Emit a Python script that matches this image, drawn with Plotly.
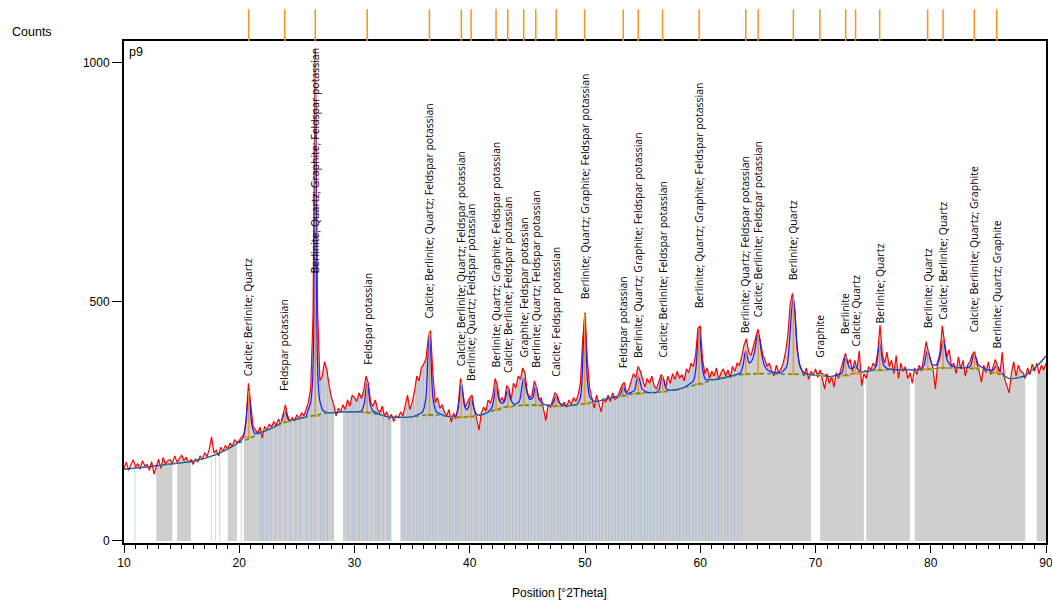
import plotly.graph_objects as go

# ---------------- data ----------------
theta_start = 10.0
theta_step = 0.2
obs_counts = [
    152, 165, 148, 158, 170, 155, 162, 150, 168, 157,   # 10.0-11.8
    160, 148, 166, 140, 158, 171, 152, 175, 161, 168,   # 12.0-13.8
    170, 162, 178, 165, 172, 180, 168, 175, 164, 171,   # 14.0-15.8
    160, 172, 165, 178, 170, 185, 176, 192, 218, 184,   # 16.0-17.8
    190, 178, 196, 188, 200, 192, 205, 198, 212, 206,   # 18.0-19.8
    210, 218, 222, 255, 330, 285, 240, 232, 226, 238,   # 20.0-21.8
    215, 240, 232, 245, 238, 250, 242, 255, 246, 262,   # 22.0-23.8
    285, 262, 250, 258, 252, 264, 256, 268, 262, 275,   # 24.0-25.8
    290, 320, 470, 1030, 480, 335, 345, 375, 358, 325,  # 26.0-27.8
    300, 285, 262, 278, 270, 285, 275, 295, 282, 305,   # 28.0-29.8
    300, 292, 310, 298, 315, 345, 330, 290, 282, 295,   # 30.0-31.8
    275, 268, 282, 262, 270, 255, 265, 250, 262, 258,   # 32.0-33.8
    270, 262, 285, 305, 275, 290, 312, 345, 335, 362,   # 34.0-35.8
    370, 380, 425, 440, 350, 290, 300, 278, 285, 270,   # 36.0-37.8
    262, 275, 248, 268, 255, 285, 340, 305, 280, 290,   # 38.0-39.8
    300, 305, 275, 255, 232, 268, 280, 272, 295, 288,   # 40.0-41.8
    305, 340, 325, 292, 300, 290, 325, 318, 296, 330,   # 42.0-43.8
    320, 345, 338, 362, 350, 310, 300, 305, 335, 322,   # 44.0-45.8
    295, 300, 272, 252, 285, 280, 295, 310, 305, 288,   # 46.0-47.8
    282, 290, 280, 295, 285, 300, 292, 305, 330, 420,   # 48.0-49.8
    478, 380, 320, 300, 278, 305, 285, 270, 298, 290,   # 50.0-51.8
    305, 292, 310, 296, 300, 315, 325, 332, 310, 318,   # 52.0-53.8
    335, 350, 342, 365, 355, 338, 322, 340, 330, 345,   # 54.0-55.8
    325, 318, 332, 348, 340, 322, 345, 330, 350, 338,   # 56.0-57.8
    355, 340, 348, 335, 360, 352, 372, 365, 390, 445,   # 58.0-59.8
    450, 380, 350, 362, 340, 355, 345, 362, 338, 352,   # 60.0-61.8
    360, 345, 358, 342, 365, 355, 372, 368, 385, 410,   # 62.0-63.8
    423, 395, 388, 405, 425, 443, 420, 392, 380, 365,   # 64.0-65.8
    372, 355, 345, 368, 352, 360, 372, 395, 430, 495,   # 66.0-67.8
    518, 480, 400, 372, 358, 345, 362, 338, 355, 348,   # 68.0-69.8
    360, 342, 358, 335, 318, 350, 330, 345, 322, 352,   # 70.0-71.8
    340, 360, 375, 393, 372, 380, 355, 378, 360, 398,   # 72.0-73.8
    325, 350, 340, 365, 358, 372, 365, 395, 452, 390,   # 74.0-75.8
    372, 395, 365, 378, 350, 388, 340, 372, 355, 365,   # 76.0-77.8
    340, 352, 330, 362, 348, 368, 355, 385, 417, 395,   # 78.0-79.8
    375, 360, 318, 372, 395, 450, 415, 385, 400, 365,   # 80.0-81.8
    372, 350, 385, 360, 378, 345, 368, 375, 390, 396,   # 82.0-83.8
    372, 355, 332, 368, 352, 375, 348, 362, 380, 365,   # 84.0-85.8
    348, 395, 340, 325, 310, 352, 375, 345, 368, 355,   # 86.0-87.8
    352, 340, 362, 348, 370, 355, 372, 350, 368, 358,   # 88.0-89.8
    372,                                                # 90.0
]

# background (green dashed)
bg_theta = [10, 12, 14, 16, 18, 19, 20, 21, 22, 23, 24, 25, 26, 27, 28, 29, 30,
            31, 32, 33, 34, 35, 36, 37, 38, 39, 40, 41, 42, 43, 44, 45, 46, 47,
            48, 49, 50, 51, 52, 53, 54, 55, 56, 57, 58, 59, 60, 61, 62, 63, 64,
            65, 66, 67, 68, 69, 70, 71, 72, 73, 74, 75, 76, 77, 78, 79, 80, 81,
            82, 83, 84, 85, 86, 87, 88, 89, 90]
bg_counts = [150, 155, 161, 167, 181, 193, 205, 216, 228, 238, 248, 255, 260,
             265, 269, 270, 270, 269, 265, 260, 259, 260, 263, 264, 261, 259,
             260, 265, 272, 280, 283, 284, 284, 282, 282, 284, 287, 293, 298,
             302, 307, 310, 311, 313, 318, 323, 329, 336, 342, 346, 349, 350,
             350, 349, 349, 348, 347, 344, 345, 349, 355, 357, 358, 358, 359,
             359, 360, 362, 362, 362, 360, 355, 348, 340, 345, 362, 387]

# calculated profile (blue), read at key positions
fit_theta = [10.0, 12.0, 14.0, 16.0, 18.0, 19.5,
             20.32, 20.57, 20.7, 20.82, 20.94, 21.07, 21.35, 22.0, 23.0,
             23.6, 23.83, 23.95, 24.07, 24.3, 25.0, 25.8,
             25.9, 26.2, 26.35, 26.47, 26.54, 26.6, 26.66, 26.73, 26.85, 27.0, 27.3, 27.8,
             29.0, 30.0,
             30.6, 30.85, 30.98, 31.1, 31.22, 31.35, 31.6, 32.5, 33.5, 35.0,
             35.9, 36.2, 36.37, 36.5, 36.63, 36.8, 37.1, 38.0,
             38.8, 39.04, 39.16, 39.27, 39.38, 39.52, 39.72,
             39.9, 40.02, 40.12, 40.22, 40.38, 40.7, 41.5,
             41.9, 42.1, 42.2, 42.28, 42.38, 42.55, 42.8,
             43.05, 43.2, 43.3, 43.4, 43.58, 43.9,
             44.3, 44.5, 44.6, 44.68, 44.78, 44.95, 45.2,
             45.48, 45.63, 45.73, 45.83, 46.0, 46.4, 47.1,
             47.3, 47.42, 47.5, 47.6, 47.75, 48.3, 49.3,
             49.6, 49.75, 49.87, 49.97, 50.07, 50.2, 50.4, 50.8, 52.0,
             53.05, 53.2, 53.32, 53.44, 53.65,
             54.3, 54.48, 54.62, 54.75, 54.95, 55.4, 56.2,
             56.45, 56.6, 56.73, 56.85, 57.05, 57.5, 58.5,
             59.4, 59.62, 59.78, 59.9, 60.02, 60.2, 60.45, 61.3, 62.5,
             63.5, 63.75, 63.87, 63.95, 64.05, 64.25, 64.5,
             64.75, 64.9, 65.02, 65.14, 65.32, 65.6, 66.0, 67.0,
             67.5, 67.75, 67.92, 68.08, 68.22, 68.4, 68.65, 69.0, 70.0,
             70.38, 71.2,
             72.3, 72.5, 72.62, 72.74, 72.95,
             73.3, 73.48, 73.66, 73.95, 74.8,
             75.25, 75.45, 75.57, 75.69, 75.9, 76.3, 77.5, 79.0,
             79.4, 79.6, 79.73, 79.86, 80.1, 80.45,
             80.8, 80.95, 81.07, 81.19, 81.4, 81.8, 82.8,
             83.45, 83.65, 83.78, 83.91, 84.15, 84.9,
             85.45, 85.63, 85.73, 85.85, 86.1, 86.8, 87.5, 88.2, 88.8, 89.4, 90.0]
fit_counts = [150, 155, 161, 167, 181, 199,
              215, 246, 285, 314, 285, 246, 225, 228, 238,
              247, 266, 274, 266, 252, 255, 260,
              268, 290, 330, 450, 700, 1010, 700, 450, 330, 292, 272, 268,
              270, 270,
              272, 288, 315, 333, 315, 288, 272, 262, 259, 260,
              270, 300, 385, 438, 385, 300, 270, 261,
              262, 285, 315, 332, 315, 285, 275,
              280, 292, 300, 292, 275, 263, 268,
              278, 298, 315, 324, 315, 295, 288,
              295, 310, 314, 310, 294, 286,
              292, 318, 334, 340, 334, 312, 296,
              300, 318, 324, 318, 298, 286, 284,
              292, 300, 303, 300, 290, 283, 286,
              300, 340, 420, 475, 420, 340, 302, 292, 298,
              305, 316, 323, 316, 308,
              315, 335, 345, 336, 318, 311, 311,
              318, 336, 345, 336, 318, 315, 320,
              335, 360, 415, 445, 415, 360, 338, 338, 344,
              352, 372, 392, 398, 390, 372, 378,
              400, 425, 434, 425, 392, 365, 355, 352,
              365, 420, 480, 511, 480, 410, 365, 352, 347,
              352, 344,
              352, 378, 387, 378, 362,
              362, 368, 360, 354, 356,
              365, 398, 413, 398, 368, 360, 358, 359,
              366, 390, 400, 390, 370, 368,
              385, 410, 419, 410, 380, 366, 362,
              366, 385, 391, 385, 368, 358,
              358, 366, 368, 364, 352, 340, 341, 346, 358, 370, 387]

# identified peaks
peak_theta = [20.82, 23.95, 26.6, 31.1, 36.5, 39.27, 40.12, 42.28, 43.3, 44.68,
              45.73, 47.5, 49.97, 53.32, 54.62, 56.73, 59.9, 63.95, 65.02, 68.08,
              70.38, 72.62, 73.48, 75.57, 79.73, 81.07, 83.78, 85.73]
peak_top = [314, 274, 1010, 333, 438, 332, 300, 324, 314, 340,
            324, 303, 475, 323, 345, 345, 445, 398, 434, 511,
            352, 387, 368, 413, 400, 419, 391, 368]
peak_base = [217, 249, 262, 269, 263, 259, 260, 274, 280, 284,
             284, 282, 287, 303, 308, 312, 328, 349, 350, 349,
             347, 346, 350, 357, 359, 362, 361, 352]
label_text = [
    "Calcite; Berlinite; Quartz",
    "Feldspar potassian",
    "Berlinite; Quartz; Graphite; Feldspar potassian",
    "Feldspar potassian",
    "Calcite; Berlinite; Quartz; Feldspar potassian",
    "Calcite; Berlinite; Quartz; Feldspar potassian",
    "Berlinite; Quartz; Feldspar potassian",
    "Berlinite; Quartz; Graphite; Feldspar potassian",
    "Calcite; Berlinite; Feldspar potassian",
    "Graphite; Feldspar potassian",
    "Berlinite; Quartz; Feldspar potassian",
    "Calcite; Feldspar potassian",
    "Berlinite; Quartz; Graphite; Feldspar potassian",
    "Feldspar potassian",
    "Berlinite; Quartz; Graphite; Feldspar potassian",
    "Calcite; Berlinite; Feldspar potassian",
    "Berlinite; Quartz; Graphite; Feldspar potassian",
    "Berlinite; Quartz; Feldspar potassian",
    "Calcite; Berlinite; Feldspar potassian",
    "Berlinite; Quartz",
    "Graphite",
    "Berlinite",
    "Calcite; Quartz",
    "Berlinite; Quartz",
    "Berlinite; Quartz",
    "Calcite; Berlinite; Quartz",
    "Calcite; Berlinite; Quartz; Graphite",
    "Berlinite; Quartz; Graphite",
]
label_bottom = [340, 309, 556, 365, 461, 361, 330, 359, 347, 379,
                359, 340, 501, 358, 379, 379, 483, 431, 464, 542,
                380, 429, 403, 450, 440, 459, 433, 398]

# measured (gray) ranges
measured_ranges = [(12.8, 14.2), (14.6, 15.8), (18.9, 19.9), (20.3, 28.3),
                   (29.0, 33.2), (34.0, 69.7), (70.4, 74.2), (74.4, 78.3),
                   (78.5, 88.2), (89.2, 90.0)]

# reference stick positions (light blue)
ref_theta = [10.95, 17.58, 17.95, 18.30, 20.18, 21.86, 22.05, 22.38, 22.73, 23.16,
             23.54, 24.00, 24.46, 24.90, 25.30, 25.85, 26.25, 26.55, 27.06, 27.30,
             27.64, 28.16,
             29.45, 29.80, 30.05, 30.40, 30.72, 31.05, 31.50, 31.85, 32.12, 32.50,
             32.90, 33.10,
             34.05, 34.30, 34.62, 34.85, 35.12, 35.45, 35.70, 35.98, 36.25, 36.55,
             36.80, 37.10, 37.42, 37.65, 37.92, 38.25, 38.50, 38.80, 39.05, 39.30,
             39.62, 39.90, 40.15, 40.45, 40.70, 41.00, 41.28, 41.55, 41.80, 42.10,
             42.35, 42.62, 42.90, 43.20, 43.45, 43.72, 44.00, 44.30, 44.55, 44.80,
             45.10, 45.35, 45.65, 45.95, 46.20, 46.48, 46.75, 47.05, 47.30, 47.60,
             47.85, 48.15, 48.42, 48.70, 49.00, 49.25, 49.55, 49.85, 50.10, 50.40,
             50.65, 50.95, 51.25, 51.50, 51.80, 52.05, 52.35, 52.62, 52.90, 53.20,
             53.45, 53.75, 54.05, 54.30, 54.60, 54.85, 55.15, 55.40, 55.70, 56.00,
             56.25, 56.55, 56.82, 57.10, 57.40, 57.65, 57.95, 58.22, 58.50, 58.80,
             59.05, 59.35, 59.62, 59.90, 60.20, 60.45, 60.75, 61.00, 61.30, 61.58,
             61.85, 62.15, 62.40, 62.70, 62.98, 63.25, 63.55]

x_ticks = [10, 20, 30, 40, 50, 60, 70, 80, 90]
y_ticks = [0, 500, 1000]

# ---------------- figure ----------------
theta = [round(theta_start + i * theta_step, 2) for i in range(len(obs_counts))]

fig = go.Figure()

# gray measured areas
for a, b in measured_ranges:
    xs = [t for t in theta if a - 1e-9 <= t <= b + 1e-9]
    ys = [obs_counts[theta.index(t)] for t in xs]
    fig.add_trace(go.Scatter(x=xs, y=ys, mode="lines", fill="tozeroy",
                             fillcolor="#cfcfcf", line=dict(width=0, color="#cfcfcf"),
                             hoverinfo="skip", showlegend=False))

# light blue reference sticks
sx, sy = [], []
for p in ref_theta:
    idx = int(round((p - theta_start) / theta_step))
    sx += [p, p, None]
    sy += [0, obs_counts[idx], None]
fig.add_trace(go.Scatter(x=sx, y=sy, mode="lines",
                         line=dict(color="rgba(125,172,240,0.45)", width=1),
                         hoverinfo="skip", showlegend=False))

# observed
fig.add_trace(go.Scatter(x=theta, y=obs_counts, mode="lines",
                         line=dict(color="#ff0000", width=1.2), showlegend=False))

# calculated
fig.add_trace(go.Scatter(x=fit_theta, y=fit_counts, mode="lines",
                         line=dict(color="#1a1aff", width=1.2, shape="spline", smoothing=0.6),
                         showlegend=False))

# orange peak sticks
ox, oy = [], []
for p, t, b in zip(peak_theta, peak_top, peak_base):
    ox += [p, p, None]
    oy += [b, t, None]
fig.add_trace(go.Scatter(x=ox, y=oy, mode="lines",
                         line=dict(color="#f7941d", width=1.5), showlegend=False))
fig.add_trace(go.Scatter(x=peak_theta, y=peak_base, mode="markers",
                         marker=dict(symbol="line-ew", size=7,
                                     line=dict(color="#f7941d", width=2)),
                         showlegend=False))

# background
fig.add_trace(go.Scatter(x=bg_theta, y=bg_counts, mode="lines",
                         line=dict(color="#2f9a3a", width=1.4, dash="4px,3px",
                                   shape="spline", smoothing=0.8),
                         showlegend=False))

# top peak markers
for p in peak_theta:
    fig.add_shape(type="line", xref="x", yref="paper", x0=p, x1=p, y0=1.0, y1=1.063,
                  line=dict(color="#f7941d", width=1.5))

annotations = []
for p, txt, yb in zip(peak_theta, label_text, label_bottom):
    annotations.append(dict(x=p, y=yb, xref="x", yref="y", text=txt, textangle=-90,
                            showarrow=False, xanchor="center", yanchor="bottom",
                            font=dict(family="Open Sans", size=10.5, color="black")))
annotations += [
    dict(x=-0.1236, y=1.018, xref="paper", yref="paper", text="Counts",
         showarrow=False, xanchor="left", yanchor="middle",
         font=dict(family="Liberation Sans", size=12.5, color="black")),
    dict(x=0.003, y=0.997, xref="paper", yref="paper", text="p9",
         showarrow=False, xanchor="left", yanchor="top",
         font=dict(family="Liberation Sans", size=12.5, color="black")),
    dict(x=0.472, y=-0.1, xref="paper", yref="paper", text="Position [°2Theta]",
         showarrow=False, xanchor="center", yanchor="middle",
         font=dict(family="Liberation Sans", size=12, color="black")),
]

fig.update_layout(
    width=1052, height=602,
    margin=dict(l=124, r=6, t=41, b=59, autoexpand=False),
    paper_bgcolor="white", plot_bgcolor="white",
    annotations=annotations,
    font=dict(family="Liberation Sans", size=12, color="black"),
    xaxis=dict(range=[10, 90], tickvals=x_ticks, ticks="outside", ticklen=8,
               tickwidth=1, tickcolor="black", showline=True, linecolor="black",
               linewidth=2, mirror=True, showgrid=False, zeroline=False,
               automargin=False, ticklabeloverflow="allow",
               minor=dict(dtick=1, tick0=10, ticks="outside", ticklen=4,
                          tickcolor="black", tickwidth=1, showgrid=False),
               tickfont=dict(family="Liberation Sans", size=12)),
    yaxis=dict(range=[-4.2, 1046], tickvals=y_ticks, ticks="outside", ticklen=10,
               tickwidth=1, tickcolor="black", showline=True, linecolor="black",
               linewidth=2, mirror=True, showgrid=False, zeroline=False,
               automargin=False,
               tickfont=dict(family="Liberation Sans", size=12)),
)

fig.write_html("out.html", config={"displayModeBar": False},
               post_script="document.body.style.margin='0';document.body.style.overflow='hidden';")
